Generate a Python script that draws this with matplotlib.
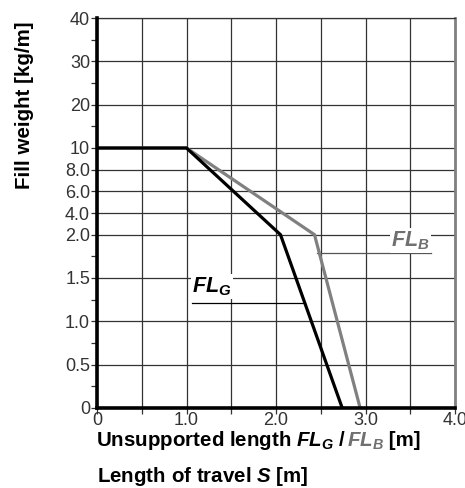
import numpy as np
import matplotlib
matplotlib.use("Agg")
import matplotlib.pyplot as plt
from matplotlib.offsetbox import TextArea, HPacker, AnchoredOffsetbox

plt.rcParams["font.family"] = ["Liberation Sans", "DejaVu Sans"]
plt.rcParams["mathtext.fontset"] = "custom"
plt.rcParams["mathtext.rm"] = "Liberation Sans:bold"
plt.rcParams["mathtext.it"] = "Liberation Sans:bold:italic"
plt.rcParams["mathtext.bf"] = "Liberation Sans:bold"

# y axis is piecewise: each labelled value sits on its own grid step
y_ticks = [0, 0.5, 1.0, 1.5, 2.0, 4.0, 6.0, 8.0, 10, 20, 30, 40]
y_tick_labels = ["0", "0.5", "1.0", "1.5", "2.0", "4.0", "6.0", "8.0", "10", "20", "30", "40"]
y_steps = [0, 1, 2, 3, 4, 4.5, 5, 5.5, 6, 7, 8, 9]
y_minor = [0.25, 0.75, 1.25, 1.75, 15, 25, 35]

x_ticks = [0, 1.0, 2.0, 3.0, 4.0]
x_tick_labels = ["0", "1.0", "2.0", "3.0", "4.0"]
x_minor = [0.5, 1.5, 2.5, 3.5]

# curves: unsupported length [m] vs fill weight [kg/m]
fl_g_x = [0, 1.0, 2.05, 2.74]
fl_g_y = [10, 10, 2.0, 0]
fl_b_x = [0, 1.0, 2.43, 2.94]
fl_b_y = [10, 10, 2.0, 0]

GRAY = "#808080"


def fwd(y):
    return np.interp(y, y_ticks, y_steps)


def inv(s):
    return np.interp(s, y_steps, y_ticks)


fig = plt.figure(figsize=(4.65, 4.88), dpi=100)
ax = fig.add_axes([97 / 465, 80 / 488, 358 / 465, 390 / 488])
ax.set_yscale("function", functions=(fwd, inv))
ax.set_xlim(0, 4.0)
ax.set_ylim(0, 40)

# grid
for gx in x_ticks + x_minor:
    ax.axvline(gx, color="#333333", lw=0.9, zorder=1)
for gy in y_ticks:
    ax.axhline(gy, color="#333333", lw=0.9, zorder=1)

ax.plot(fl_b_x, fl_b_y, color=GRAY, lw=2.3, zorder=3, solid_joinstyle="miter")
ax.plot(fl_g_x, fl_g_y, color="black", lw=2.3, zorder=4, solid_joinstyle="miter")

ax.set_yticks(y_ticks)
ax.set_yticklabels(y_tick_labels)
ax.set_yticks(y_minor, minor=True)
ax.set_xticks(x_ticks)
ax.set_xticklabels(x_tick_labels)
ax.set_xticks(x_minor, minor=True)
ax.tick_params(axis="both", which="both", direction="out", length=4, width=0.9,
               color="#333333", labelsize=13, labelcolor="#333333", pad=1)
ax.tick_params(axis="x", which="major", pad=-1)

for side in ["left", "bottom"]:
    ax.spines[side].set_linewidth(2.6)
    ax.spines[side].set_color("black")
    ax.spines[side].set_zorder(5)
ax.spines["right"].set_linewidth(2.0)
ax.spines["right"].set_color(GRAY)
ax.spines["top"].set_linewidth(0.9)
ax.spines["top"].set_color("#333333")

# curve labels with leader lines
ax.text(1.06, 1.40, "$FL_G$", fontsize=15.5, color="black", va="center", ha="left",
        zorder=6, bbox=dict(facecolor="white", edgecolor="none", pad=1))
ax.plot([1.06, 2.32], [1.21, 1.21], color="black", lw=0.9, zorder=2)
ax.text(3.29, 1.93, "$FL_B$", fontsize=15.5, color="#707070", va="center", ha="left",
        zorder=6, bbox=dict(facecolor="white", edgecolor="none", pad=1))
ax.plot([2.46, 3.73], [1.79, 1.79], color="#555555", lw=0.9, zorder=2)

# axis titles
fig.text(24 / 465, (488 - 105) / 488, "Fill weight [kg/m]", rotation=90,
         fontsize=14.8, fontweight="bold", ha="center", va="center")

lbl_kw = dict(size=14.8, weight="bold")
parts = [
    TextArea("Unsupported length $FL_G$ / ", textprops=dict(color="black", **lbl_kw)),
    TextArea("$FL_B$", textprops=dict(color="#707070", **lbl_kw)),
    TextArea(" [m]", textprops=dict(color="black", **lbl_kw)),
]
row = HPacker(children=parts, align="baseline", pad=0, sep=0)
box = AnchoredOffsetbox(loc="center left", child=row, pad=0, frameon=False,
                        bbox_to_anchor=(96 / 465, (488 - 441) / 488),
                        bbox_transform=fig.transFigure, borderpad=0)
fig.add_artist(box)

fig.text(97 / 465, (488 - 477) / 488, "Length of travel $S$ [m]",
         fontsize=14.8, fontweight="bold", ha="left", va="center")

fig.savefig("out.png", dpi=100)
